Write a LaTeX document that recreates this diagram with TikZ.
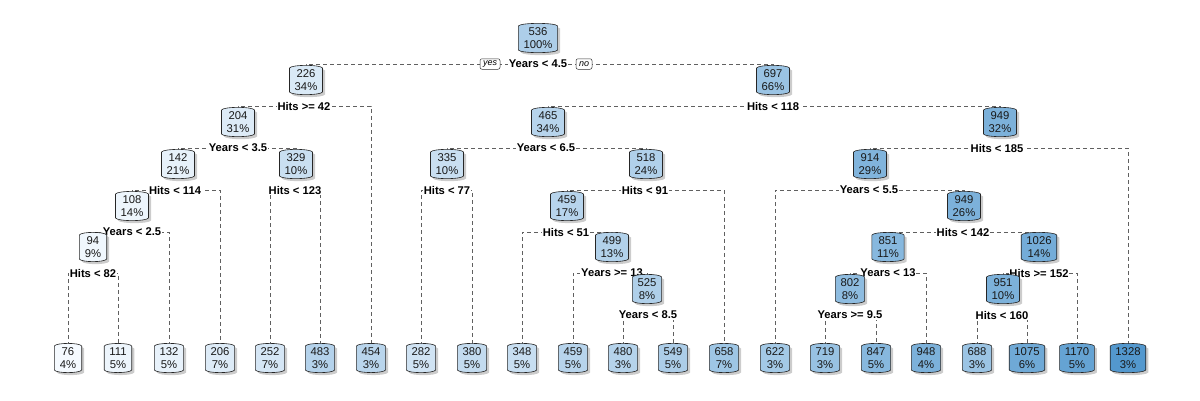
\documentclass[tikz,border=0pt]{standalone}
\usepackage{fontspec}
\setmainfont{Liberation Sans}
\usetikzlibrary{calc}
\definecolor{blight}{HTML}{F7FBFF}
\definecolor{bdark}{HTML}{5398CE}
\definecolor{lncol}{HTML}{606060}
\pgfdeclarelayer{lines}
\pgfdeclarelayer{labels}
\pgfdeclarelayer{boxes}
\pgfsetlayers{lines,labels,boxes,main}
\tikzset{
  tbox/.style={inner xsep=5pt, inner ysep=1.5pt, minimum width=27pt, align=center,
    font=\fontsize{11.3}{12.6}\selectfont, text=black!90},
  splitlbl/.style={fill=white, inner sep=0.8pt, font=\fontsize{11.2}{12}\selectfont\bfseries},
  conn/.style={draw=lncol, line width=0.7pt, dash pattern=on 4pt off 3pt},
  yn/.style={draw=black!80, fill=white, rounded corners=2pt, inner xsep=3pt, inner ysep=0.5pt,
    minimum height=10.5pt, font=\fontsize{9}{10}\selectfont\itshape, line width=0.5pt},
}
\newcommand\barrelshape[3]{%
  \path[#3] ([shift={#2}]#1.south west) -- ([shift={#2}]#1.north west)
    .. controls +(2,-3.5) and +(-2,-3.5) .. ([shift={#2}]#1.north east)
    -- ([shift={#2}]#1.south east)
    .. controls +(-2,3.5) and +(2,3.5) .. ([shift={#2}]#1.south west) -- cycle;}
\newcommand\tnode[5]{%
  \pgfmathsetmacro\tval{100*(((#4)-70)/1258)^0.8}%
  \pgfmathtruncatemacro\tpc{\tval}%
  \colorlet{tfill}{bdark!\tpc!blight}%
  \node[tbox] (#1) at (#2,#3) {#4\\#5\%};%
  \begin{pgfonlayer}{boxes}
    \barrelshape{#1}{(2.5,2.5)}{fill=gray!40}
    \barrelshape{#1}{(0,0)}{draw=black!85, fill=tfill, line width=0.6pt}
  \end{pgfonlayer}}
\newcommand\spl[6]{% name, x, y, text, left, right
  \begin{pgfonlayer}{labels}\node[splitlbl] (#1) at (#2,#3) {#4};\end{pgfonlayer}
  \begin{pgfonlayer}{lines}\draw[conn] (#5.north) |- (#1.center) -| (#6.north);\end{pgfonlayer}}
\begin{document}
\begin{tikzpicture}[x=1pt,y=-1pt]
\useasboundingbox (0,0) rectangle (1200,400);
% internal nodes
\tnode{n1}{538}{38}{536}{100}
\tnode{n2}{306}{80}{226}{34}
\tnode{n3}{773}{80}{697}{66}
\tnode{n4}{238}{122}{204}{31}
\tnode{n6}{548}{122}{465}{34}
\tnode{n7}{1000}{122}{949}{32}
\tnode{n8}{178}{164}{142}{21}
\tnode{n9}{296}{164}{329}{10}
\tnode{n12}{447}{164}{335}{10}
\tnode{n13}{646}{164}{518}{24}
\tnode{n14}{870}{164}{914}{29}
\tnode{n16}{132}{206}{108}{14}
\tnode{n26}{567}{206}{459}{17}
\tnode{n29}{964}{206}{949}{26}
\tnode{n32}{93}{247}{94}{9}
\tnode{n53}{612}{247}{499}{13}
\tnode{n58}{888}{247}{851}{11}
\tnode{n59}{1039}{247}{1026}{14}
\tnode{n107}{647}{289}{525}{8}
\tnode{n116}{850}{289}{802}{8}
\tnode{n118}{1003}{289}{951}{10}
% leaves
\tnode{L0}{68}{358}{76}{4}
\tnode{L1}{118}{358}{111}{5}
\tnode{L2}{169}{358}{132}{5}
\tnode{L3}{220}{358}{206}{7}
\tnode{L4}{270}{358}{252}{7}
\tnode{L5}{320}{358}{483}{3}
\tnode{L6}{371}{358}{454}{3}
\tnode{L7}{421}{358}{282}{5}
\tnode{L8}{472}{358}{380}{5}
\tnode{L9}{522}{358}{348}{5}
\tnode{L10}{573}{358}{459}{5}
\tnode{L11}{623}{358}{480}{3}
\tnode{L12}{673}{358}{549}{5}
\tnode{L13}{724}{358}{658}{7}
\tnode{L14}{775}{358}{622}{3}
\tnode{L15}{825}{358}{719}{3}
\tnode{L16}{876}{358}{847}{5}
\tnode{L17}{926}{358}{948}{4}
\tnode{L18}{977}{358}{688}{3}
\tnode{L19}{1027}{358}{1075}{6}
\tnode{L20}{1077}{358}{1170}{5}
\tnode{L21}{1128}{358}{1328}{3}
% splits
\spl{s1}{538}{64}{Years < 4.5}{n2}{n3}
\spl{s2}{304}{106}{Hits >= 42}{n4}{L6}
\spl{s3}{773}{106}{Hits < 118}{n6}{n7}
\spl{s4}{238}{148}{Years < 3.5}{n8}{n9}
\spl{s6}{546}{148}{Years < 6.5}{n12}{n13}
\spl{s7}{997}{148}{Hits < 185}{n14}{L21}
\spl{s8}{175}{190}{Hits < 114}{n16}{L3}
\spl{s9}{295}{190}{Hits < 123}{L4}{L5}
\spl{s12}{447}{190}{Hits < 77}{L7}{L8}
\spl{s13}{645}{190}{Hits < 91}{n26}{L13}
\spl{s14}{869}{190}{Years < 5.5}{L14}{n29}
\spl{s16}{132}{232}{Years < 2.5}{n32}{L2}
\spl{s26}{566}{232}{Hits < 51}{L9}{n53}
\spl{s29}{963}{232}{Hits < 142}{n58}{n59}
\spl{s32}{93}{273}{Hits < 82}{L0}{L1}
\spl{s53}{612}{273}{Years >= 13}{L10}{n107}
\spl{s58}{888}{273}{Years < 13}{n116}{L17}
\spl{s59}{1039}{273}{Hits >= 152}{n118}{L20}
\spl{s107}{648}{315}{Years < 8.5}{L11}{L12}
\spl{s116}{850}{315}{Years >= 9.5}{L15}{L16}
\spl{s118}{1002}{315}{Hits < 160}{L18}{L19}
% yes / no
\begin{pgfonlayer}{labels}
\node[yn] (yes) at (490,64) {yes};
\node[yn] (no) at (584,64) {no};
\end{pgfonlayer}
\end{tikzpicture}
\end{document}
